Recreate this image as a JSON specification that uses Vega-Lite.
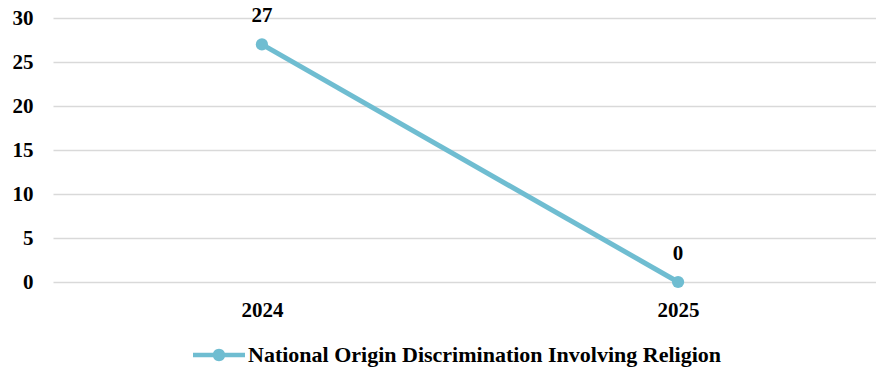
{
  "$schema": "https://vega.github.io/schema/vega-lite/v6.json",
  "autosize": {"type": "none"},
  "padding": {"left": 53, "top": 18, "right": 0, "bottom": 86},
  "width": 834,
  "height": 264,
  "background": "white",
  "config": {
    "view": {"stroke": null},
    "font": "'Liberation Serif', 'Times New Roman', serif",
    "axis": {"labelFont": "'Liberation Serif', 'Times New Roman', serif", "labelFontWeight": "bold", "labelFontSize": 21, "labelColor": "#000000"},
    "legend": {"labelFont": "'Liberation Serif', 'Times New Roman', serif", "labelFontWeight": "bold", "labelFontSize": 22, "labelColor": "#000000", "labelLimit": 0}
  },
  "data": {
    "values": [
      {"year": "2024", "value": 27, "series": "National Origin Discrimination Involving Religion"},
      {"year": "2025", "value": 0, "series": "National Origin Discrimination Involving Religion"}
    ]
  },
  "encoding": {
    "x": {
      "field": "year", "type": "ordinal",
      "scale": {"type": "point", "padding": 0.502},
      "axis": {"title": null, "labelAngle": 0, "domain": false, "ticks": false, "grid": false, "labelPadding": 17}
    },
    "y": {
      "field": "value", "type": "quantitative",
      "scale": {"domain": [0, 30], "nice": false},
      "axis": {"title": null, "values": [0, 5, 10, 15, 20, 25, 30], "domain": false, "ticks": false, "gridColor": "#D9D9D9", "gridWidth": 1.5, "labelPadding": 20}
    }
  },
  "layer": [
    {
      "mark": {"type": "line", "strokeWidth": 5, "point": {"filled": true, "size": 150}},
      "encoding": {
        "color": {
          "field": "series", "type": "nominal",
          "scale": {"range": ["#6FBDD1"]},
          "legend": {
            "title": null, "orient": "none", "legendX": 140, "legendY": 311,
            "symbolType": "M-1,-0.09 L1,-0.09 L1,0.09 L-1,0.09 Z M-0.24,0 A0.24,0.24 0 1,1 0.24,0 A0.24,0.24 0 1,1 -0.24,0 Z",
            "symbolSize": 2704, "symbolStrokeWidth": 0, "symbolFillColor": "#6FBDD1", "labelOffset": 3
          }
        }
      }
    },
    {
      "mark": {"type": "text", "dy": -28, "fontWeight": "bold", "fontSize": 21, "font": "'Liberation Serif', 'Times New Roman', serif", "color": "#000000"},
      "encoding": {"text": {"field": "value", "type": "quantitative"}}
    }
  ]
}
